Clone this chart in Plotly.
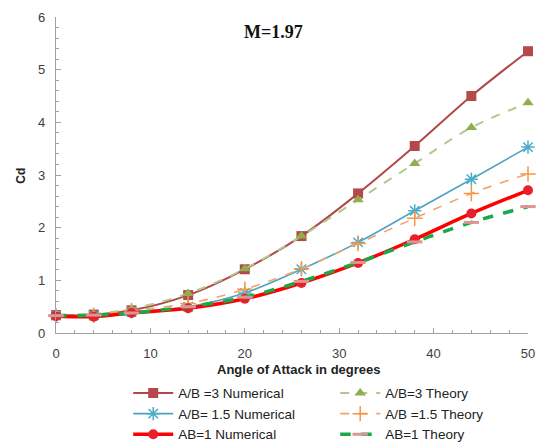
import plotly.graph_objects as go

angle = [0, 4, 8, 14, 20, 26, 32, 38, 44, 50]
ab3_num = [0.34, 0.35, 0.43, 0.72, 1.21, 1.84, 2.65, 3.55, 4.50, 5.35]
ab3_th = [0.33, 0.36, 0.46, 0.75, 1.22, 1.84, 2.53, 3.22, 3.90, 4.37]
ab15_num = [0.33, 0.33, 0.40, 0.50, 0.76, 1.21, 1.72, 2.32, 2.92, 3.53]
ab15_th = [0.33, 0.34, 0.43, 0.56, 0.83, 1.22, 1.70, 2.18, 2.65, 3.02]
ab1_num = [0.32, 0.31, 0.38, 0.47, 0.65, 0.95, 1.33, 1.78, 2.27, 2.71]
ab1_th = [0.33, 0.34, 0.38, 0.50, 0.68, 0.98, 1.34, 1.73, 2.10, 2.40]

names = ["A/B =3 Numerical", "A/B=3 Theory", "A/B= 1.5 Numerical",
         "A/B =1.5 Theory", "AB=1 Numerical", "AB=1 Theory"]

fig = go.Figure()
fig.add_trace(go.Scatter(x=angle, y=ab3_num, name=names[0], mode="lines+markers",
    line=dict(color="#B0494A", width=2, shape="spline"),
    marker=dict(symbol="square", size=10, color="#B5484A"), cliponaxis=False))
fig.add_trace(go.Scatter(x=angle, y=ab3_th, name=names[1], mode="lines+markers",
    line=dict(color="#B3C98A", width=2, dash="dash", shape="spline"),
    marker=dict(symbol="triangle-up", size=10, color="#8FAE4C"), cliponaxis=False))
fig.add_trace(go.Scatter(x=angle, y=ab15_num, name=names[2], mode="lines+markers",
    line=dict(color="#4BA3C3", width=1.6, shape="spline"),
    marker=dict(symbol="asterisk-open", size=11, color="#4BACC6",
                line=dict(color="#4BACC6", width=1.5)), cliponaxis=False))
fig.add_trace(go.Scatter(x=angle, y=ab15_th, name=names[3], mode="lines+markers",
    line=dict(color="#F2A46B", width=1.6, dash="dash", shape="spline"),
    marker=dict(symbol="cross-thin-open", size=11, color="#F79646",
                line=dict(color="#F79646", width=1.5)), cliponaxis=False))
fig.add_trace(go.Scatter(x=angle, y=ab1_num, name=names[4], mode="lines+markers",
    line=dict(color="#FF0000", width=3.5, shape="spline"),
    marker=dict(symbol="circle", size=10, color="#E8202A"), cliponaxis=False))
fig.add_trace(go.Scatter(x=angle, y=ab1_th, name=names[5], mode="lines+markers",
    line=dict(color="#1BA84A", width=3.5, dash="dash", shape="spline"),
    marker=dict(symbol="line-ew", size=11, color="#D99694",
                line=dict(color="#D99694", width=3)), cliponaxis=False))

axis_common = dict(showgrid=False, zeroline=False, showline=True, linecolor="#A0A0A0",
                   linewidth=1.2, ticks="inside", tickcolor="#A0A0A0", ticklen=5,
                   tickfont=dict(family="Liberation Sans", size=13, color="#404040"))
fig.update_xaxes(range=[0, 50], tickvals=[0, 10, 20, 30, 40, 50], ticklabelstandoff=8,
                 minor=dict(ticks="inside", dtick=2, ticklen=3, tickcolor="#A0A0A0"),
                 **axis_common)
fig.update_yaxes(range=[0, 6], tickvals=[0, 1, 2, 3, 4, 5, 6], ticklabelstandoff=7,
                 minor=dict(ticks="inside", dtick=0.2, ticklen=3, tickcolor="#A0A0A0"),
                 **axis_common)

fig.add_annotation(text="<b>M=1.97</b>", xref="paper", yref="paper", x=0.46, y=0.952,
                   xanchor="center", yanchor="middle",
                   showarrow=False, font=dict(family="Liberation Serif", size=18, color="#111"))
fig.add_annotation(text="<b>Cd</b>", xref="paper", yref="paper", x=-0.074, y=0.498,
                   xanchor="center", yanchor="middle",
                   textangle=-90, showarrow=False,
                   font=dict(family="Liberation Sans", size=12, color="#222"))
fig.add_annotation(text="<b>Angle of Attack in degrees</b>", xref="paper", yref="paper",
                   x=0.515, y=-0.115, xanchor="center", yanchor="middle", showarrow=False,
                   font=dict(family="Liberation Sans", size=13, color="#222"))

fig.update_layout(
    width=545, height=445,
    margin=dict(l=56, r=12, t=10, b=112),
    paper_bgcolor="white", plot_bgcolor="white",
    showlegend=True,
    legend=dict(orientation="h", x=0.153, xref="paper", y=0.151, yref="container",
                xanchor="left", yanchor="top",
                entrywidth=152, entrywidthmode="pixels", itemwidth=40,
                font=dict(family="Liberation Sans", size=13.5, color="#222"),
                tracegroupgap=0, bgcolor="rgba(0,0,0,0)"),
)

fig.write_html("out.html")
